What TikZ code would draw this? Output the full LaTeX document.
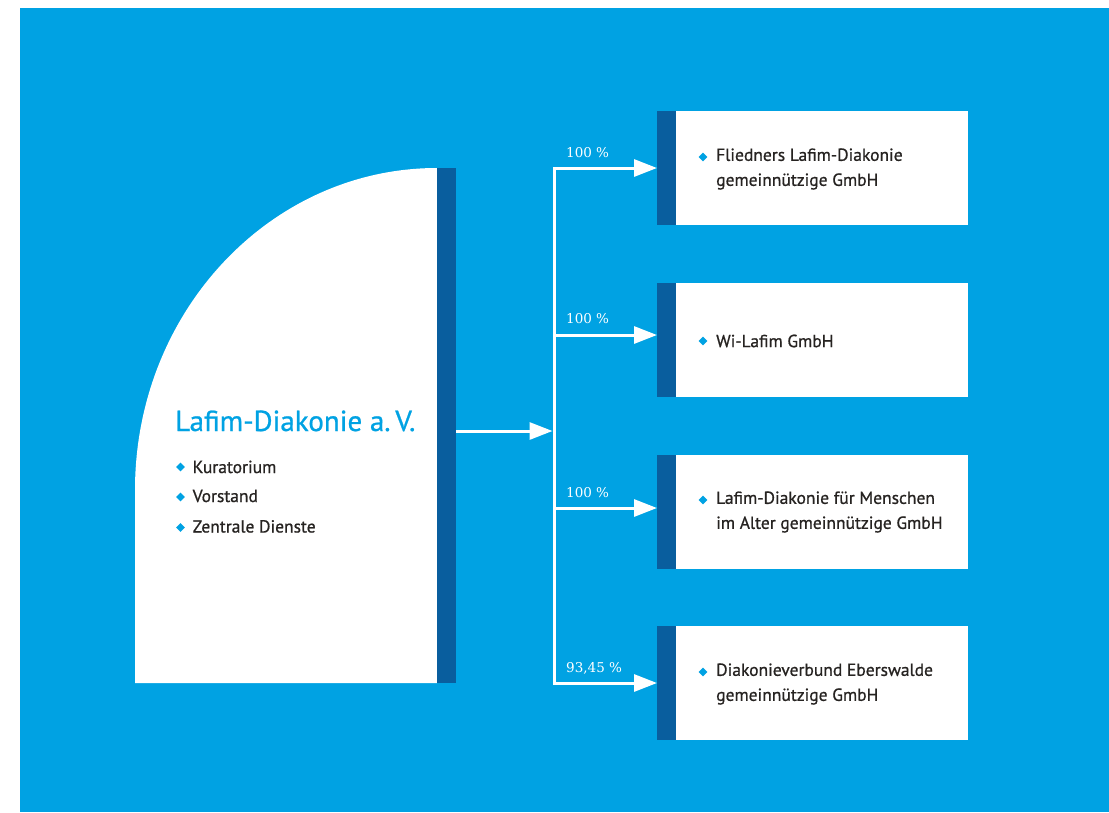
\documentclass[tikz,border=0pt]{standalone}
\usepackage{fontspec}
\newfontfamily\sansf[FakeBold=0.8]{PT Sans}
\newfontfamily\pctf{DejaVu Serif}
\usetikzlibrary{arrows.meta,shapes.geometric}
\definecolor{bg}{RGB}{0,162,227}
\definecolor{darkbar}{RGB}{9,94,158}
\definecolor{txt}{RGB}{38,35,33}
\tikzset{
  barbox/.style={fill=darkbar, draw=none, inner sep=0pt, outer sep=0pt, minimum width=19pt, anchor=north west},
  whitebox/.style={fill=white, draw=none, inner sep=0pt, outer sep=0pt, minimum width=292pt, minimum height=114pt, anchor=north west},
  conn/.style={draw=white, line width=3pt},
  arr/.style={conn, -{Triangle[length=23pt,width=17pt]}},
  dia/.style={diamond, fill=bg, draw=none, inner sep=0pt, minimum size=9pt},
  boxtext/.style={anchor=west, align=left, text=txt, font=\sansf\fontsize{17.5}{25}\selectfont, inner sep=0pt},
  itemtext/.style={anchor=base west, text=txt, font=\sansf\fontsize{17.5}{17.5}\selectfont, inner sep=0pt},
  titletext/.style={anchor=base west, text=bg, font=\sansf\fontsize{29}{29}\selectfont, inner sep=0pt},
  pct/.style={anchor=base west, text=white, font=\pctf\fontsize{13.5}{13.5}\selectfont, inner sep=0pt},
}
\begin{document}
\begin{tikzpicture}[x=1pt,y=-1pt]
\useasboundingbox (0,0) rectangle (1109,812);
\fill[bg] (20,8) rectangle (1109,812);
% main shape
\fill[white] (135,683) -- (135,490) arc[start angle=180,end angle=270,x radius=302,y radius=322] -- (437,683) -- cycle;
\node[barbox, minimum height=515pt] (mainbar) at (437,168) {};
\node[titletext] (title) at (175,431) {Lafim-Diakonie a.\,V.};
\node[dia] (md1) at (180.5,467) {};
\node[dia] (md2) at (180.5,497) {};
\node[dia] (md3) at (180.5,527.5) {};
\node[itemtext] (m1) at (192.5,473) {Kuratorium};
\node[itemtext] (m2) at (192.5,502) {Vorstand};
\node[itemtext] (m3) at (192.5,532.5) {Zentrale Dienste};
% boxes
\node[barbox, minimum height=114pt] (b1bar) at (657,111) {};
\node[whitebox] (b1) at (676,111) {};
\node[barbox, minimum height=114pt] (b2bar) at (657,283) {};
\node[whitebox] (b2) at (676,283) {};
\node[barbox, minimum height=114pt] (b3bar) at (657,455) {};
\node[whitebox] (b3) at (676,455) {};
\node[barbox, minimum height=114pt] (b4bar) at (657,626) {};
\node[whitebox] (b4) at (676,626) {};
% box texts
\node[dia] (d1) at (703,157) {};
\node[boxtext] (t1) at (716,169) {Fliedners Lafim-Diakonie\\gemeinnützige GmbH};
\node[dia] (d2) at (703,341) {};
\node[boxtext] (t2) at (716,341) {Wi-Lafim GmbH};
\node[dia] (d3) at (703,500) {};
\node[boxtext] (t3) at (716,512) {Lafim-Diakonie für Menschen\\im Alter gemeinnützige GmbH};
\node[dia] (d4) at (703,672) {};
\node[boxtext] (t4) at (716,684) {Diakonieverbund Eberswalde\\gemeinnützige GmbH};
% connectors
\coordinate (j1) at (554,168);
\coordinate (j2) at (554,335);
\coordinate (j3) at (554,508);
\coordinate (j4) at (554,683);
\coordinate (jm) at (552.5,431);
\draw[conn, line cap=rect] (j1) -- (j4);
\draw[arr] (mainbar.east |- jm) -- (jm);
\draw[arr] (j1) -- (b1bar.west |- j1);
\draw[arr] (j2) -- (b2bar.west |- j2);
\draw[arr] (j3) -- (b3bar.west |- j3);
\draw[arr] (j4) -- (b4bar.west |- j4);
% percentages
\node[pct] (p1) at (566,157) {100 \%};
\node[pct] (p2) at (566,323) {100 \%};
\node[pct] (p3) at (566,497) {100 \%};
\node[pct] (p4) at (566,672) {93,45 \%};
\end{tikzpicture}
\end{document}
